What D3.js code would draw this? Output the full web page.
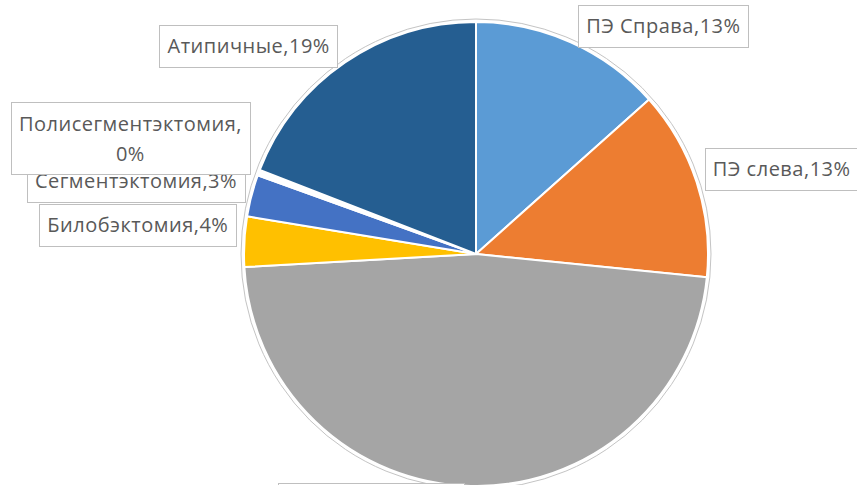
<!DOCTYPE html>
<html>
<head>
<meta charset="utf-8">
<script src="https://cdn.jsdelivr.net/npm/d3@7"></script>
<style>
  body { margin: 0; background: #fff; }
  svg { display: block; font-family: "Open Sans", "Noto Sans", sans-serif; }
</style>
</head>
<body>
<script>
// data (clockwise from 12 o'clock)
var categories = ['ПЭ Справа', 'ПЭ слева', 'Лобэктомия', 'Билобэктомия', 'Сегментэктомия', 'Полисегментэктомия', 'Атипичные'];
var values = [13.4, 13.2, 47.5, 3.5, 2.9, 0.4, 19.1];
var percentLabels = ['13%', '13%', '48%', '4%', '3%', '0%', '19%'];
var colors = ['#5b9bd5', '#ed7d31', '#a5a5a5', '#ffc000', '#4472c4', '#ffffff', '#255e91'];

// label nudges from the outer anchor point, and line breaks
var nudges = [[0, 0], [-9, -8], [-100, 0], [10, -16], [11, -10], [8, -28], [3, -2]];
var wrapped = [false, false, false, false, false, true, false];

var W = 857, H = 485;
var cx = 476, cy = 254, R = 232;

var svg = d3.select('body').append('svg').attr('width', W).attr('height', H);

var pie = d3.pie().sort(null).value(d => d.value);
var data = categories.map((c, i) => ({ name: c, value: values[i], pct: percentLabels[i], color: colors[i], i: i }));
var arcs = pie(data);

var g = svg.append('g').attr('transform', 'translate(' + cx + ',' + cy + ')');

// outer rim
g.append('circle').attr('r', R + 3).attr('fill', '#fff').attr('stroke', '#c4c4c4').attr('stroke-width', 1);

var arc = d3.arc().innerRadius(0).outerRadius(R);
g.selectAll('path.slice')
  .data(arcs).enter().append('path')
  .attr('class', 'slice')
  .attr('d', arc)
  .attr('fill', d => d.data.color)
  .attr('stroke', '#fff')
  .attr('stroke-width', 2)
  .attr('stroke-linejoin', 'round');

// labels
var labelArc = d3.arc().innerRadius(R + 18).outerRadius(R + 18);
var fs = 20, lh = 30, pad = 8, boxH = 42;

var lg = svg.append('g').attr('transform', 'translate(' + cx + ',' + cy + ')');

arcs.forEach(function (d) {
  var i = d.data.i;
  var p = labelArc.centroid(d);
  var mid = (d.startAngle + d.endAngle) / 2;
  var lines = wrapped[i] ? [d.data.name + ',', d.data.pct] : [d.data.name + ',' + d.data.pct];

  var grp = lg.append('g');
  var rect = grp.append('rect').attr('fill', '#fff').attr('stroke', '#bfbfbf').attr('stroke-width', 1);
  var texts = grp.selectAll('text').data(lines).enter().append('text')
    .attr('text-anchor', 'middle')
    .attr('fill', '#595959')
    .attr('font-size', fs)
    .attr('letter-spacing', 0.5)
    .text(t => t);

  var tw = d3.max(texts.nodes(), n => n.getComputedTextLength());
  var bw = tw + pad * 2;
  var bh = boxH + (lines.length - 1) * lh;

  var left;
  if (Math.abs(mid - Math.PI) < 0.3) left = p[0] - bw / 2;
  else if (mid < Math.PI) left = p[0];
  else left = p[0] - bw;
  left += nudges[i][0];
  var top = p[1] + nudges[i][1] - bh / 2;

  rect.attr('x', Math.round(left) + 0.5).attr('y', Math.round(top) + 0.5)
    .attr('width', Math.round(bw)).attr('height', Math.round(bh));
  texts.attr('x', left + bw / 2)
    .attr('y', (t, k) => top + bh / 2 + (k - (lines.length - 1) / 2) * lh + fs * 0.36);
});
</script>
</body>
</html>
